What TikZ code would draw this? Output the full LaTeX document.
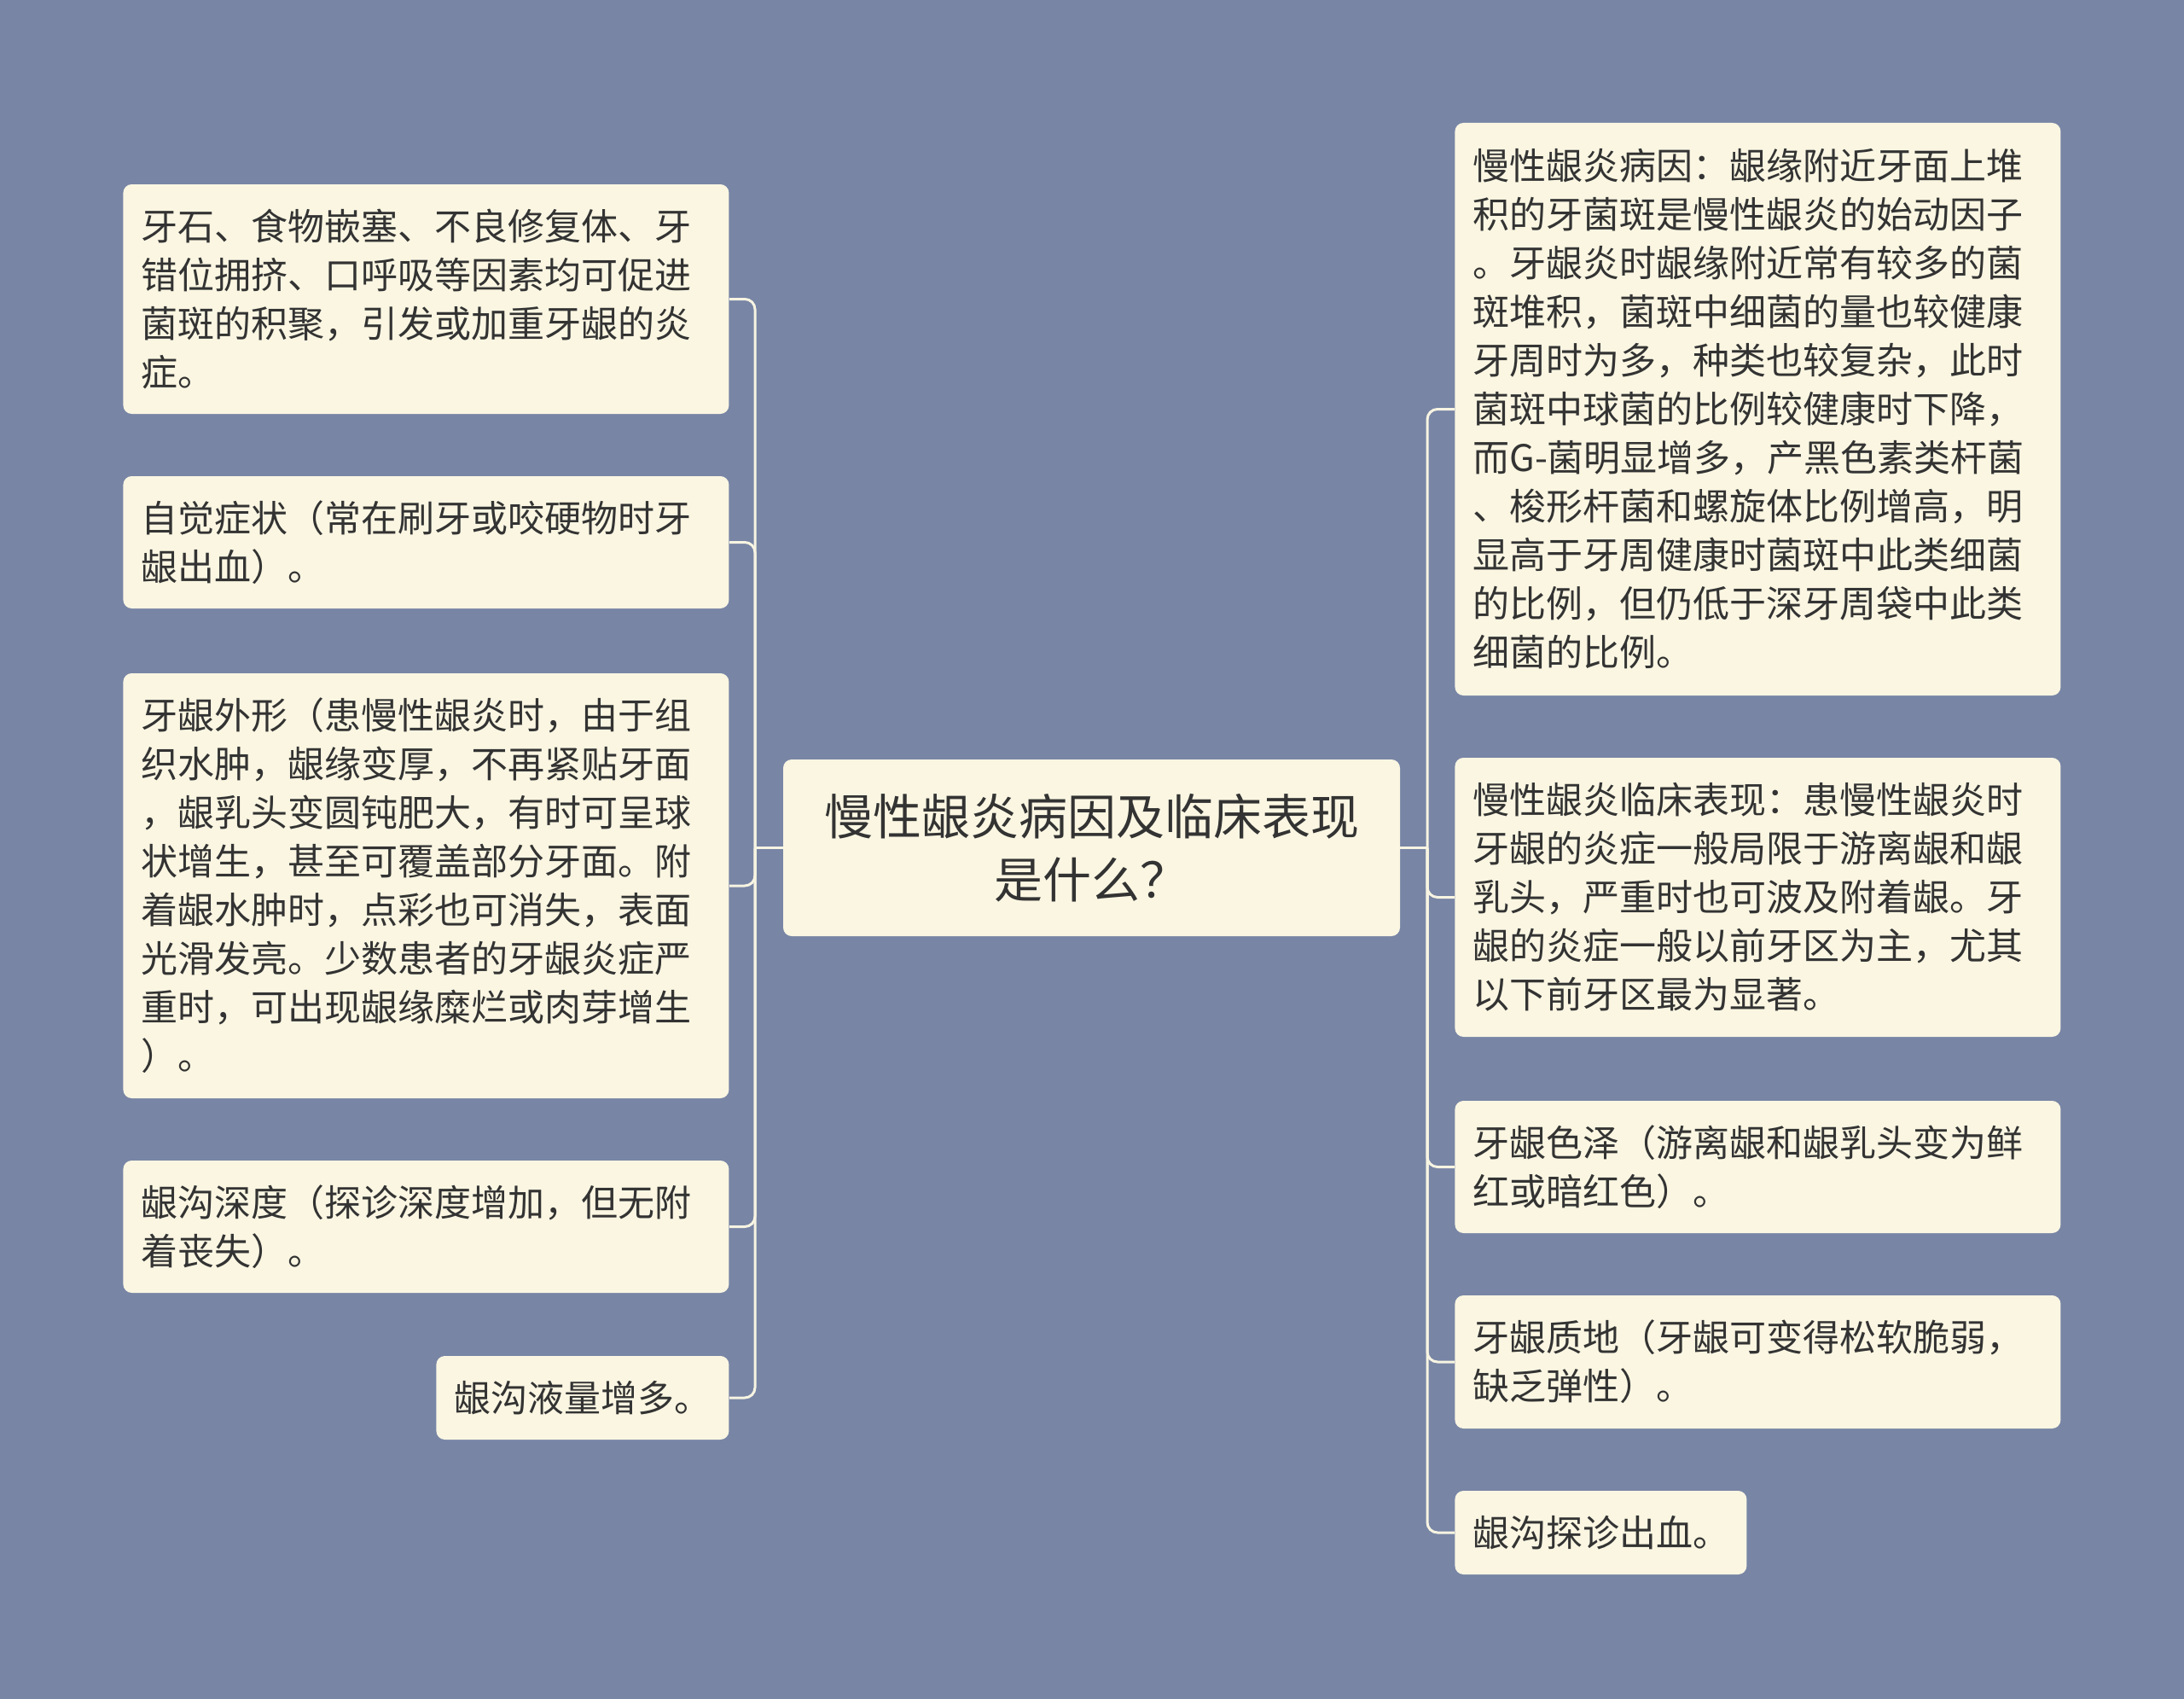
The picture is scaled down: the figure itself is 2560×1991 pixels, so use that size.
\documentclass[tikz,border=0pt]{standalone}
\usepackage{fontspec}
\setmainfont{Noto Sans CJK SC}
\usepackage{tikz}
\usepackage{xcolor}

\definecolor{bgblue}{RGB}{120,133,165}
\definecolor{paper}{RGB}{250,246,226}
\definecolor{ink}{RGB}{51,51,51}
\definecolor{wire}{RGB}{247,244,226}

\newcommand{\leaffont}{\fontsize{21.5pt}{28.5pt}\selectfont}
\newcommand{\hubfont}{\fontsize{28.5pt}{36.75pt}\selectfont}

\tikzset{
  leaf/.style={fill=paper, text=ink, rounded corners=5pt, anchor=west,
    inner xsep=10.5pt, inner ysep=0pt, text width=334pt, align=left, font=\leaffont},
  hub/.style={fill=paper, text=ink, rounded corners=5pt, align=center,
    minimum width=361.5pt, minimum height=103.5pt, font=\hubfont},
  link/.style={draw=wire, line width=1.5pt, rounded corners=6pt}
}

\begin{document}
\begin{tikzpicture}[x=0.5pt, y=-0.5pt, line join=round]

    % canvas 2560 x 1991, y runs downwards
    \fill[bgblue] (0,0) rectangle (2560,1991);

    % trunks on both sides of the hub
    \coordinate (lt) at (885, 993.5);
    \coordinate (rt) at (1673, 993.5);

    % Hub
    \node[hub] (hub) at (1279.5, 993.5) {慢性龈炎病因及临床表现\\是什么？};

    % Left leaves
    \node[leaf, minimum height=134.5pt] (L1) at (144, 350.5)
      {牙石、食物嵌塞、不良修复体、牙\\错位拥挤、口呼吸等因素均可促进\\菌斑的积聚，引发或加重牙龈的炎\\症。};
    \node[leaf, minimum height=77.5pt] (L2) at (144, 635.5)
      {自觉症状（常在刷牙或咬硬物时牙\\龈出血）。};
    \node[leaf, minimum height=249pt] (L3) at (144, 1038)
      {牙龈外形（患慢性龈炎时，由于组\\织水肿，龈缘变厚，不再紧贴牙面\\，龈乳头变圆钝肥大，有时可呈球\\状增生，甚至可覆盖部分牙面。附\\着龈水肿时，点彩也可消失，表面\\光滑发亮。少数患者的牙龈炎症严\\重时，可出现龈缘糜烂或肉芽增生\\）。};
    \node[leaf, minimum height=77.5pt] (L4) at (144, 1437.5)
      {龈沟深度（探诊深度增加，但无附\\着丧失）。};
    \node[leaf, minimum height=49pt, text width=150.5pt] (L5) at (511, 1638)
      {龈沟液量增多。};

    % Right leaves
    \node[leaf, minimum height=335.5pt] (R1) at (1705, 479.5)
      {慢性龈炎病因：龈缘附近牙面上堆\\积的牙菌斑是慢性龈炎的始动因子\\。牙龈炎时龈缘附近常有较多的菌\\斑堆积，菌斑中细菌的量也较健康\\牙周时为多，种类也较复杂，此时\\菌斑中球菌的比例较健康时下降，\\而G-菌明显增多，产黑色素类杆菌\\、梭形杆菌和螺旋体比例增高，明\\显高于牙周健康时菌斑中此类细菌\\的比例，但仍低于深牙周袋中此类\\细菌的比例。};
    \node[leaf, minimum height=163.5pt] (R2) at (1705, 1051.5)
      {慢性龈炎临床表现：患慢性龈炎时\\牙龈的炎症一般局限于游离龈和龈\\乳头，严重时也可波及附着龈。牙\\龈的炎症一般以前牙区为主，尤其\\以下前牙区最为显著。};
    \node[leaf, minimum height=77.5pt] (R3) at (1705, 1367.5)
      {牙龈色泽（游离龈和龈乳头变为鲜\\红或暗红色）。};
    \node[leaf, minimum height=78pt] (R4) at (1705, 1596)
      {牙龈质地（牙龈可变得松软脆弱，\\缺乏弹性）。};
    \node[leaf, minimum height=49pt, text width=150pt] (R5) at (1705, 1796)
      {龈沟探诊出血。};

    % Connectors
    \draw[link] (hub.west) -- (lt);
    \draw[link] (hub.east) -- (rt);
    \foreach \n in {L1,L2,L3,L4,L5}
      \draw[link] (lt) |- (\n.east);
    \foreach \n in {R1,R2,R3,R4,R5}
      \draw[link] (rt) |- (\n.west);

\end{tikzpicture}
\end{document}
